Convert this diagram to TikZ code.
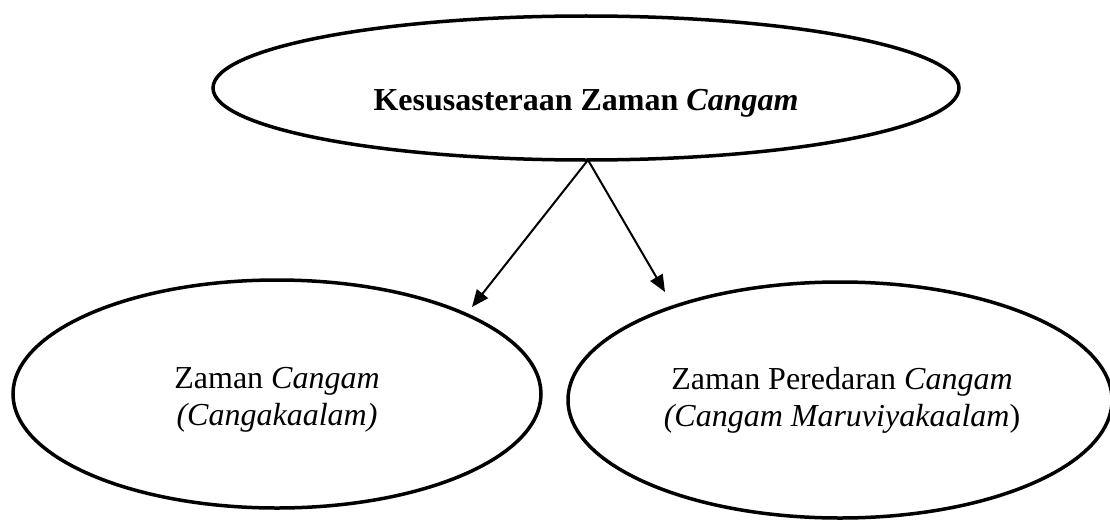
\documentclass[tikz,border=0pt]{standalone}
\usepackage{fontspec}
\setmainfont{Liberation Serif}
\usetikzlibrary{shapes.geometric,arrows.meta}
\tikzset{
  oval/.style={draw=black, line width=3.5pt, ellipse, inner sep=0pt, outer sep=0pt},
  label32/.style={align=center, font=\fontsize{32}{37}\selectfont, inner sep=0pt},
  conn/.style={line width=2pt, -{Triangle[length=17pt,width=14pt]}}
}
\begin{document}
\begin{tikzpicture}[x=1pt,y=-1pt]
\useasboundingbox (0,0) rectangle (1110,519);
\node[oval, minimum width=746pt, minimum height=144pt] (top) at (586,88) {};
\node[font=\fontsize{32}{37}\bfseries\selectfont, inner sep=0pt] (toptext) at (586,103) {Kesusasteraan Zaman \textit{Cangam}};
\node[oval, minimum width=528pt, minimum height=228pt] (left) at (277,394) {};
\node[label32] (lefttext) at (277,400) {Zaman \textit{Cangam}\\\textit{(Cangakaalam)}};
\node[oval, minimum width=544pt, minimum height=236pt] (right) at (840,400) {};
\node[label32] (righttext) at (842,400) {Zaman Peredaran \textit{Cangam}\\\textit{(Cangam Maruviyakaalam})};
\coordinate (start) at (588,160);
\coordinate (ltip) at (472,307);
\coordinate (rtip) at (665,292);
\draw[conn] (start) -- (ltip);
\draw[conn] (start) -- (rtip);
\end{tikzpicture}
\end{document}
